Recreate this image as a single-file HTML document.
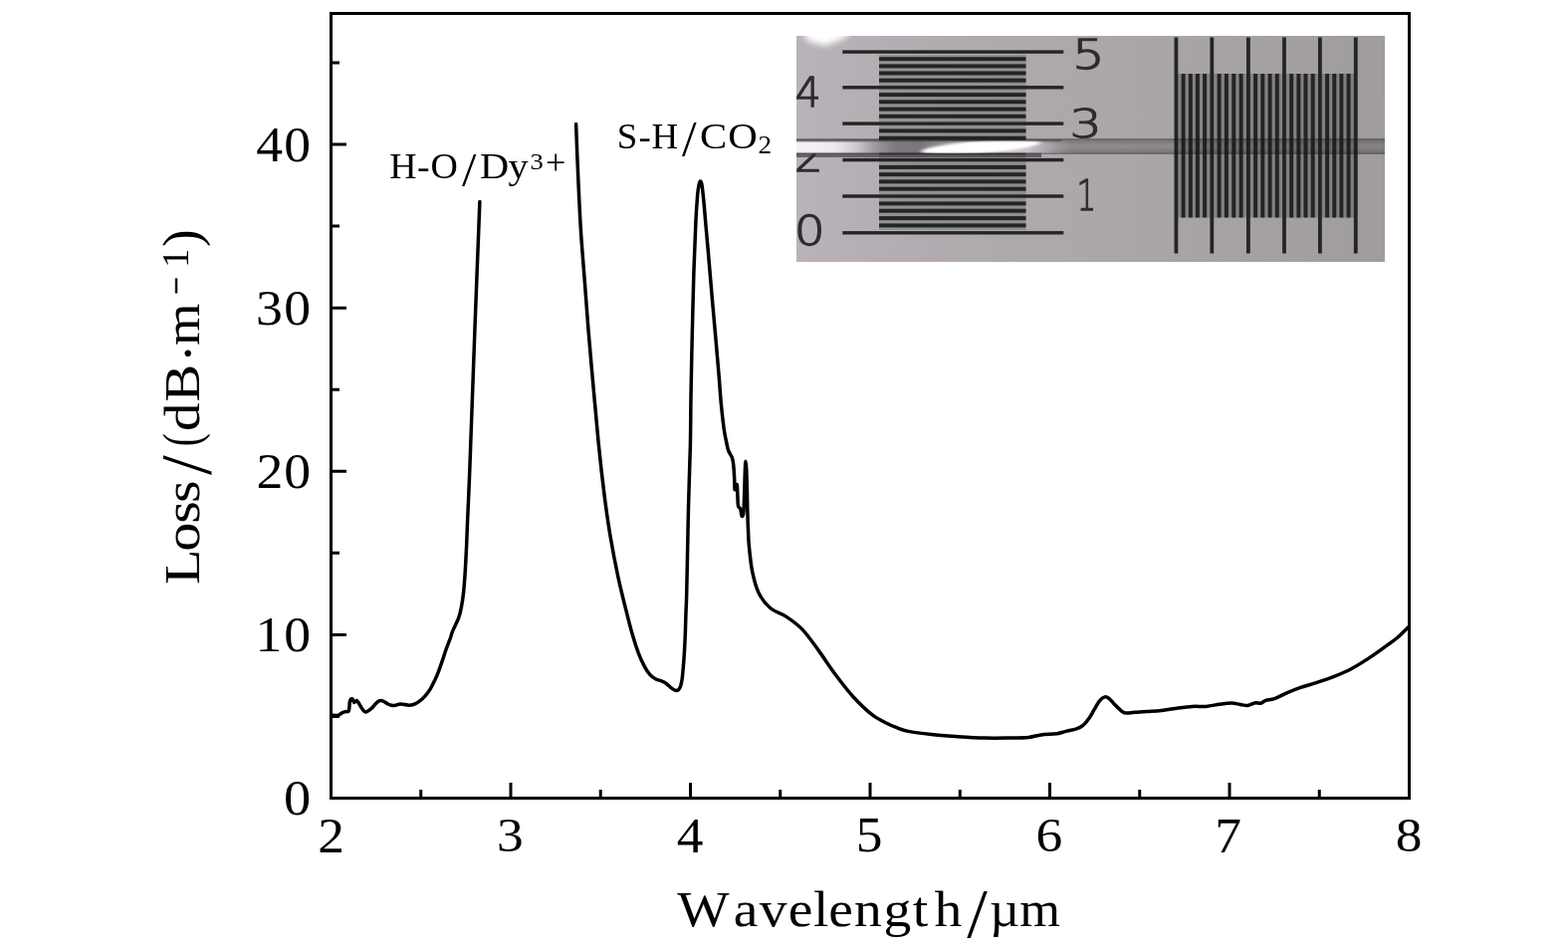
<!DOCTYPE html><html><head><meta charset="utf-8"><title>Loss spectrum</title>
<style>html,body{margin:0;padding:0;background:#fff}svg{display:block}text{font-family:"Liberation Serif",serif;fill:#000}.ins text{font-family:"DejaVu Sans Light","DejaVu Sans","Liberation Sans",sans-serif;font-weight:200;fill:#2e2c2e;stroke:#2e2c2e;stroke-width:1.25px}</style></head><body>
<svg width="1575" height="955" viewBox="0 0 1575 955">
<rect width="1575" height="955" fill="#fff"/>
<defs>
<linearGradient id="bg" x1="0" y1="0" x2="1" y2="0"><stop offset="0" stop-color="#b9b2b9"/><stop offset="0.25" stop-color="#b1abb0"/><stop offset="0.55" stop-color="#aaa6a9"/><stop offset="1" stop-color="#9f9b9e"/></linearGradient>
<linearGradient id="fibL" gradientUnits="userSpaceOnUse" x1="800" y1="0" x2="1076" y2="0"><stop offset="0" stop-color="#f8f0f8"/><stop offset="0.14" stop-color="#f1e8f1"/><stop offset="0.22" stop-color="#cfc6cf"/><stop offset="0.29" stop-color="#9c969c"/><stop offset="0.36" stop-color="#7e797e"/><stop offset="0.45" stop-color="#7a757b"/><stop offset="0.52" stop-color="#8f898f"/><stop offset="0.60" stop-color="#b5adb5"/><stop offset="0.77" stop-color="#d5ccd5"/><stop offset="0.84" stop-color="#cdc4cd"/><stop offset="0.90" stop-color="#bdb5bd" stop-opacity="0.8"/><stop offset="1" stop-color="#a9a3a9" stop-opacity="0"/></linearGradient>
<linearGradient id="fibV" x1="0" y1="0" x2="0" y2="1"><stop offset="0" stop-color="#141214" stop-opacity="0.5"/><stop offset="0.16" stop-color="#141214" stop-opacity="0.3"/><stop offset="0.5" stop-color="#141214" stop-opacity="0.17"/><stop offset="0.84" stop-color="#141214" stop-opacity="0.3"/><stop offset="1" stop-color="#141214" stop-opacity="0.5"/></linearGradient>
<filter id="b1" x="-5%" y="-5%" width="110%" height="110%"><feGaussianBlur stdDeviation="0.7"/></filter>
<filter id="b2" x="-20%" y="-50%" width="140%" height="200%"><feGaussianBlur stdDeviation="2.2"/></filter>
<filter id="b3" x="-20%" y="-20%" width="140%" height="140%"><feGaussianBlur stdDeviation="4"/></filter>
<filter id="b4" x="-10%" y="-30%" width="120%" height="160%"><feGaussianBlur stdDeviation="1"/></filter>
<filter id="b5" x="-20%" y="-80%" width="140%" height="260%"><feGaussianBlur stdDeviation="2.5 1.2"/></filter>
<filter id="b6" x="-30%" y="-30%" width="160%" height="160%"><feGaussianBlur stdDeviation="3"/></filter>
<clipPath id="fc"><rect x="800" y="141.2" width="300" height="13"/></clipPath>
<clipPath id="c2"><rect x="790" y="154" width="50" height="30"/></clipPath>
<clipPath id="ic"><rect x="800" y="36" width="591" height="227"/></clipPath>
</defs>
<g class="ins" clip-path="url(#ic)">
<rect x="800" y="36" width="591" height="227" fill="url(#bg)"/>
<path d="M805,26 L858,26 L849,38 L829,46 L811,41 Z" fill="#fff" filter="url(#b6)"/>
<rect x="883" y="55" width="147.5" height="176" fill="#3a383a" opacity="0.25"/>
<rect x="1183" y="74" width="177" height="144.5" fill="#3a383a" opacity="0.3"/>
<g filter="url(#b1)">
<rect x="846.3" y="50.4" width="222" height="3.4" fill="#242522"/>
<rect x="846.3" y="86.1" width="222" height="3.4" fill="#242522"/>
<rect x="846.3" y="122.4" width="222" height="3.4" fill="#242522"/>
<rect x="846.3" y="158.9" width="222" height="3.4" fill="#242522"/>
<rect x="846.3" y="195.3" width="222" height="3.4" fill="#242522"/>
<rect x="846.3" y="232.1" width="222" height="3.4" fill="#242522"/>
<rect x="883" y="57.2" width="147.5" height="4" fill="#242522"/>
<rect x="883" y="64.4" width="147.5" height="4" fill="#242522"/>
<rect x="883" y="71.5" width="147.5" height="4" fill="#242522"/>
<rect x="883" y="78.7" width="147.5" height="4" fill="#242522"/>
<rect x="883" y="93.1" width="147.5" height="4" fill="#242522"/>
<rect x="883" y="100.3" width="147.5" height="4" fill="#242522"/>
<rect x="883" y="107.6" width="147.5" height="4" fill="#242522"/>
<rect x="883" y="114.8" width="147.5" height="4" fill="#242522"/>
<rect x="883" y="129.4" width="147.5" height="4" fill="#242522"/>
<rect x="883" y="136.7" width="147.5" height="4" fill="#242522"/>
<rect x="883" y="144.0" width="147.5" height="4" fill="#242522"/>
<rect x="883" y="151.3" width="147.5" height="4" fill="#242522"/>
<rect x="883" y="165.9" width="147.5" height="4" fill="#242522"/>
<rect x="883" y="173.2" width="147.5" height="4" fill="#242522"/>
<rect x="883" y="180.4" width="147.5" height="4" fill="#242522"/>
<rect x="883" y="187.7" width="147.5" height="4" fill="#242522"/>
<rect x="883" y="202.4" width="147.5" height="4" fill="#242522"/>
<rect x="883" y="209.7" width="147.5" height="4" fill="#242522"/>
<rect x="883" y="217.1" width="147.5" height="4" fill="#242522"/>
<rect x="883" y="224.4" width="147.5" height="4" fill="#242522"/>
<rect x="1179.5" y="37.5" width="3.8" height="217" fill="#242522"/>
<rect x="1215.4" y="37.5" width="3.8" height="217" fill="#242522"/>
<rect x="1252.0" y="37.5" width="3.8" height="217" fill="#242522"/>
<rect x="1288.1" y="37.5" width="3.8" height="217" fill="#242522"/>
<rect x="1324.0" y="37.5" width="3.8" height="217" fill="#242522"/>
<rect x="1359.9" y="37.5" width="3.8" height="217" fill="#242522"/>
<rect x="1186.6" y="74" width="4" height="144.5" fill="#242522"/>
<rect x="1193.8" y="74" width="4" height="144.5" fill="#242522"/>
<rect x="1200.9" y="74" width="4" height="144.5" fill="#242522"/>
<rect x="1208.1" y="74" width="4" height="144.5" fill="#242522"/>
<rect x="1222.6" y="74" width="4" height="144.5" fill="#242522"/>
<rect x="1229.9" y="74" width="4" height="144.5" fill="#242522"/>
<rect x="1237.3" y="74" width="4" height="144.5" fill="#242522"/>
<rect x="1244.6" y="74" width="4" height="144.5" fill="#242522"/>
<rect x="1259.1" y="74" width="4" height="144.5" fill="#242522"/>
<rect x="1266.3" y="74" width="4" height="144.5" fill="#242522"/>
<rect x="1273.6" y="74" width="4" height="144.5" fill="#242522"/>
<rect x="1280.8" y="74" width="4" height="144.5" fill="#242522"/>
<rect x="1295.2" y="74" width="4" height="144.5" fill="#242522"/>
<rect x="1302.4" y="74" width="4" height="144.5" fill="#242522"/>
<rect x="1309.5" y="74" width="4" height="144.5" fill="#242522"/>
<rect x="1316.7" y="74" width="4" height="144.5" fill="#242522"/>
<rect x="1331.1" y="74" width="4" height="144.5" fill="#242522"/>
<rect x="1338.3" y="74" width="4" height="144.5" fill="#242522"/>
<rect x="1345.4" y="74" width="4" height="144.5" fill="#242522"/>
<rect x="1352.6" y="74" width="4" height="144.5" fill="#242522"/>
<text transform="translate(1077.02,68.99) scale(1.2849,1.0201)" font-size="40">5</text>
<text transform="translate(798.77,106.60) scale(1.0194,1.0205)" font-size="40">4</text>
<text transform="translate(1074.60,138.41) scale(1.2663,0.9768)" font-size="40">3</text>
<g clip-path="url(#c2)">
<text transform="translate(797.64,172.20) scale(1.1368,1.0068)" font-size="40">2</text>
</g>
<text transform="translate(1081.49,210.70) scale(0.7744,1.0445)" font-size="40">1</text>
<text transform="translate(797.76,246.08) scale(1.2174,1.0265)" font-size="40">0</text>
</g>
<rect x="800" y="139.2" width="591" height="15.6" fill="url(#fibV)"/>
<g clip-path="url(#fc)">
<g filter="url(#b4)"><rect x="780" y="141.8" width="300" height="12.2" fill="url(#fibL)"/></g>
<ellipse cx="985" cy="147.6" rx="60" ry="5.8" transform="rotate(-4.2 985 147.6)" fill="#fff" filter="url(#b5)"/>
<ellipse cx="992" cy="147.2" rx="42" ry="4.8" transform="rotate(-4.2 992 147.2)" fill="#fff" filter="url(#b4)"/>
</g>
<rect x="796" y="153.6" width="250" height="4.4" fill="#343234" opacity="0.62" filter="url(#b1)"/>
<rect x="796" y="139.9" width="270" height="2.4" fill="#343234" opacity="0.4" filter="url(#b1)"/>
</g>
<rect x="332.5" y="13.5" width="1083.0" height="788.0" fill="none" stroke="#000" stroke-width="3"/>
<path d="M332.50,801.5 v-15.5 M513.00,801.5 v-15.5 M693.50,801.5 v-15.5 M874.00,801.5 v-15.5 M1054.50,801.5 v-15.5 M1235.00,801.5 v-15.5 M1415.50,801.5 v-15.5 M422.75,801.5 v-8.5 M603.25,801.5 v-8.5 M783.75,801.5 v-8.5 M964.25,801.5 v-8.5 M1144.75,801.5 v-8.5 M1325.25,801.5 v-8.5 M332.5,801.50 h15.5 M332.5,637.38 h15.5 M332.5,473.26 h15.5 M332.5,309.14 h15.5 M332.5,145.02 h15.5 M332.5,719.44 h8.5 M332.5,555.32 h8.5 M332.5,391.20 h8.5 M332.5,227.08 h8.5 M332.5,62.96 h8.5" stroke="#000" stroke-width="3" fill="none"/>
<path d="M333.5,718.0 C334.5,718.1 337.7,718.9 339.4,718.5 C341.1,718.1 342.3,716.5 343.6,715.9 C344.9,715.2 345.9,715.0 347.0,714.6 C348.1,714.2 349.6,715.6 350.4,713.8 C351.1,712.0 350.9,705.9 351.5,703.9 C352.1,701.9 353.2,701.5 353.9,701.8 C354.6,702.0 355.0,705.1 355.7,705.4 C356.4,705.7 357.4,703.1 358.3,703.4 C359.2,703.7 359.8,705.4 360.9,707.0 C361.9,708.6 363.5,711.5 364.6,712.8 C365.7,714.1 366.3,715.1 367.7,714.9 C369.1,714.7 371.3,713.0 372.9,711.7 C374.5,710.4 375.8,708.3 377.1,707.0 C378.4,705.7 379.6,704.4 380.8,703.9 C382.0,703.4 383.0,703.4 384.5,703.9 C386.0,704.4 388.0,706.2 389.7,707.0 C391.4,707.8 392.8,708.6 394.9,708.6 C397.0,708.6 399.9,707.1 402.3,707.0 C404.8,706.9 407.4,708.0 409.6,708.1 C411.8,708.2 413.4,708.1 415.3,707.5 C417.2,706.9 419.3,705.7 421.1,704.4 C422.9,703.1 424.6,701.6 426.3,699.7 C428.1,697.8 429.9,695.7 431.6,692.9 C433.4,690.1 435.4,685.8 436.8,682.9 C438.2,680.0 438.8,678.7 440.0,675.6 C441.2,672.5 442.7,668.1 444.1,664.1 C445.5,660.1 446.9,655.4 448.3,651.5 C449.7,647.6 451.4,643.5 452.5,640.5 C453.6,637.5 453.2,637.2 454.6,633.8 C456.0,630.4 459.3,624.4 460.8,620.2 C462.3,616.0 462.8,613.1 463.6,608.7 C464.4,604.3 465.1,599.9 465.7,594.0 C466.3,588.1 466.8,580.8 467.3,573.1 C467.8,565.4 468.2,556.4 468.6,548.0 C469.0,539.6 469.2,531.9 469.6,522.8 C470.0,513.7 470.5,503.3 470.9,493.5 C471.3,483.7 471.1,491.1 472.1,464.2 C473.1,437.3 475.3,375.6 476.9,332.0 C478.5,288.4 481.1,224.1 481.9,202.5" fill="none" stroke="#000" stroke-width="3.5" stroke-linejoin="round" stroke-linecap="round"/>
<path d="M578.6,124.5 C578.9,132.6 579.7,155.4 580.5,172.9 C581.3,190.4 582.2,211.7 583.3,229.5 C584.4,247.3 585.8,263.0 587.1,279.8 C588.4,296.6 589.6,314.4 590.9,330.1 C592.2,345.8 593.6,361.7 594.7,374.2 C595.8,386.7 596.4,392.9 597.5,405.0 C598.6,417.1 599.9,432.2 601.4,447.1 C602.9,462.0 604.8,479.1 606.7,494.3 C608.6,509.5 610.6,524.1 613.0,538.2 C615.4,552.3 618.0,565.9 620.8,579.1 C623.6,592.3 627.5,607.3 630.0,617.3 C632.5,627.3 633.9,632.6 635.8,639.1 C637.7,645.6 639.6,651.4 641.5,656.4 C643.4,661.4 645.4,665.5 647.3,669.1 C649.2,672.7 651.1,675.6 653.0,677.7 C654.9,679.9 656.9,681.0 658.8,682.0 C660.7,683.0 662.8,683.1 664.5,683.8 C666.2,684.5 667.6,685.2 669.1,686.3 C670.6,687.4 672.4,689.3 673.7,690.4 C675.1,691.5 676.2,692.3 677.2,692.8 C678.2,693.3 678.9,693.6 679.7,693.5 C680.5,693.4 681.3,693.0 682.0,692.1 C682.7,691.2 683.4,690.0 683.9,688.1 C684.4,686.2 684.9,683.8 685.3,680.6 C685.7,677.4 686.0,673.9 686.4,669.1 C686.8,664.3 687.3,657.6 687.6,651.8 C687.9,646.0 688.2,640.2 688.4,634.5 C688.6,628.8 688.7,623.0 688.9,617.3 C689.1,611.5 689.4,607.4 689.6,600.0 C689.8,592.6 689.9,587.8 690.2,572.8 C690.5,557.8 691.0,531.0 691.5,510.0 C692.0,489.1 693.0,465.7 693.4,447.1 C693.8,428.6 693.7,417.2 694.0,398.7 C694.3,380.2 694.8,356.8 695.3,335.9 C695.8,315.0 696.3,292.0 696.9,273.1 C697.5,254.3 698.3,235.8 698.9,222.8 C699.5,209.8 700.2,201.5 700.7,195.2 C701.2,188.9 701.8,187.3 702.2,185.1 C702.7,182.9 703.0,182.1 703.4,182.1 C703.8,182.1 704.3,182.1 704.9,185.1 C705.5,188.1 706.0,193.5 706.7,200.2 C707.4,206.9 708.0,215.2 708.9,225.3 C709.8,235.4 711.0,248.3 712.0,260.5 C713.0,272.6 714.0,284.8 715.2,298.2 C716.4,311.6 717.8,327.6 719.0,340.9 C720.2,354.2 721.3,367.3 722.2,378.0 C723.1,388.7 723.5,396.5 724.3,405.1 C725.1,413.7 726.2,423.3 727.0,429.5 C727.8,435.7 728.5,438.4 729.3,442.2 C730.1,446.0 730.6,449.5 731.6,452.4 C732.6,455.3 734.5,457.1 735.4,459.6 C736.3,462.1 736.4,463.9 736.8,467.5 C737.2,471.1 737.5,477.0 737.7,481.0 C737.9,485.0 737.7,490.8 738.1,491.7 C738.5,492.6 739.7,485.4 740.2,486.5 C740.7,487.6 740.7,494.4 740.9,498.0 C741.1,501.6 741.0,506.0 741.5,508.2 C742.0,510.4 743.1,509.3 743.7,511.0 C744.3,512.7 744.7,517.5 745.2,518.3 C745.7,519.1 746.4,517.9 746.7,516.0 C747.1,514.1 747.1,511.1 747.3,507.0 C747.5,502.9 747.6,497.1 747.8,491.2 C748.0,485.3 748.2,476.1 748.4,471.5 C748.6,466.9 748.8,463.3 749.0,463.3 C749.3,463.3 749.6,466.9 749.8,471.5 C750.0,476.1 750.2,484.5 750.4,491.2 C750.6,497.9 750.6,504.8 750.8,511.6 C751.0,518.4 751.2,525.9 751.5,532.0 C751.8,538.1 751.7,541.4 752.4,548.4 C753.1,555.4 754.1,566.4 755.7,574.2 C757.3,582.0 759.1,589.3 762.1,595.4 C765.1,601.5 769.4,606.8 773.9,610.7 C778.4,614.6 783.9,615.4 789.2,618.9 C794.5,622.4 800.2,626.2 805.7,631.9 C811.2,637.6 816.7,645.6 822.2,653.1 C827.7,660.6 832.8,668.9 838.7,676.7 C844.6,684.6 851.2,693.3 857.5,700.2 C863.8,707.1 870.6,713.5 876.3,717.9 C882.0,722.3 887.8,724.7 891.7,726.8 C895.7,728.9 896.5,729.1 900.0,730.4 C903.5,731.7 906.5,733.2 912.4,734.4 C918.3,735.6 927.3,736.7 935.6,737.6 C943.9,738.5 953.3,739.1 962.2,739.7 C971.1,740.3 980.6,740.9 988.9,741.1 C997.2,741.3 1004.6,741.2 1012.0,741.1 C1019.4,741.0 1027.7,740.9 1033.3,740.4 C1038.9,739.9 1041.0,738.5 1045.8,737.9 C1050.5,737.3 1057.6,737.3 1061.8,736.7 C1066.0,736.1 1067.5,735.2 1070.7,734.4 C1074.0,733.6 1078.5,732.8 1081.3,731.9 C1084.1,731.0 1085.5,730.4 1087.6,728.7 C1089.7,727.0 1091.9,724.3 1093.8,721.6 C1095.7,718.9 1097.3,715.7 1099.1,712.7 C1100.9,709.7 1102.6,705.9 1104.4,703.8 C1106.2,701.7 1108.2,700.3 1109.8,699.9 C1111.4,699.5 1112.7,700.5 1114.2,701.6 C1115.7,702.7 1117.2,704.9 1118.7,706.4 C1120.2,707.9 1121.3,709.3 1123.1,710.9 C1124.9,712.5 1126.5,715.0 1129.3,715.7 C1132.1,716.4 1135.8,715.5 1140.0,715.3 C1144.2,715.1 1149.8,714.7 1154.2,714.4 C1158.7,714.1 1162.3,713.9 1166.7,713.4 C1171.1,712.9 1175.4,712.2 1180.6,711.5 C1185.8,710.8 1192.6,709.8 1197.7,709.4 C1202.8,709.0 1206.8,709.8 1211.4,709.4 C1216.0,709.0 1220.8,707.8 1225.1,707.2 C1229.4,706.6 1233.7,706.0 1237.1,706.0 C1240.5,706.0 1243.0,707.0 1245.7,707.4 C1248.4,707.8 1250.8,708.7 1253.4,708.4 C1256.0,708.1 1258.9,706.1 1261.1,705.7 C1263.2,705.4 1264.6,706.7 1266.3,706.3 C1268.0,705.9 1269.1,704.2 1271.4,703.4 C1273.7,702.6 1276.6,702.9 1280.0,701.7 C1283.4,700.5 1287.7,698.0 1292.0,696.1 C1296.3,694.2 1300.5,692.4 1305.7,690.6 C1310.9,688.8 1317.2,687.3 1322.9,685.4 C1328.6,683.5 1334.3,681.7 1340.0,679.4 C1345.7,677.1 1351.5,674.7 1357.2,671.7 C1362.9,668.7 1368.6,665.1 1374.3,661.4 C1380.0,657.7 1386.6,652.9 1391.4,649.4 C1396.2,645.9 1399.5,643.8 1403.4,640.5 C1407.3,637.2 1412.7,631.5 1414.6,629.7" fill="none" stroke="#000" stroke-width="3.5" stroke-linejoin="round" stroke-linecap="round"/>
<text transform="translate(319.14,855.70) scale(1.0600,0.9921)" font-size="50.4">2</text>
<text transform="translate(498.98,855.21) scale(1.0600,0.9773)" font-size="50.4">3</text>
<text transform="translate(679.74,855.70) scale(1.0600,0.9921)" font-size="50.4">4</text>
<text transform="translate(859.71,855.20) scale(1.0600,0.9846)" font-size="50.4">5</text>
<text transform="translate(1040.48,855.21) scale(1.0600,0.9773)" font-size="50.4">6</text>
<text transform="translate(1220.18,855.70) scale(1.0600,0.9996)" font-size="50.4">7</text>
<text transform="translate(1401.74,855.21) scale(1.0600,0.9700)" font-size="50.4">8</text>
<text transform="translate(0,818.20) scale(1.0797,1)" x="264.04" y="0" font-size="50.4">0</text>
<text transform="translate(0,654.08) scale(1.0663,1)" x="240.55 267.53" y="0" font-size="50.4">10</text>
<text transform="translate(0,489.96) scale(1.0653,1)" x="241.79 267.79" y="0" font-size="50.4">20</text>
<text transform="translate(0,325.84) scale(1.0650,1)" x="241.22 267.86" y="0" font-size="50.4">30</text>
<text transform="translate(0,161.72) scale(1.0642,1)" x="241.67 268.08" y="0" font-size="50.4">40</text>
<text transform="translate(0,930.30) scale(1.0968,1)" x="620.12 671.75 695.48 721.81 744.81 758.87 782.29 809.14 835.91 855.63" y="0" font-size="50.6">Wavelength</text>
<text transform="translate(971.30,940.59) scale(1.4610,1.3952)" font-size="50.6">/</text>
<text transform="translate(0,930.30) scale(1.0352,1)" x="960.15 989.32" y="0" font-size="50.6">µm</text>
<g transform="translate(200.4,584.5) rotate(-90)">
<text transform="translate(0,0.00) scale(1.1554,1)" x="-2.24 26.56 50.93 68.80" y="0" font-size="50.4">Loss</text>
<text transform="translate(107.50,10.48) scale(1.4031,1.4244)" font-size="50.4">/</text>
<text transform="translate(136.13,-0.02) scale(0.7787,1.0604)" font-size="50.4">(</text>
<text transform="translate(0,0.00) scale(1.1338,1)" x="133.53 159.53" y="0" font-size="50.4">dB</text>
<text transform="translate(220.62,6.75) scale(1.0913,1.0913)" font-size="50.4">·</text>
<text transform="translate(237.51,0.00) scale(1.0839,1.0000)" font-size="50.4">m</text>
<text transform="translate(288.65,-11.30) scale(0.8602,1.0000)" font-size="36" stroke="#000" stroke-width="0.7">−</text>
<text transform="translate(315.52,-11.80) scale(1.0720,1.0269)" font-size="36">1</text>
<text transform="translate(336.42,-0.02) scale(1.0455,1.0604)" font-size="50.4">)</text>
</g>
<text transform="translate(0,179.20) scale(1.0770,1)" x="363.18 389.08 401.57" y="0" font-size="35.2">H-O</text>
<text transform="translate(464.00,186.51) scale(1.4712,1.4035)" font-size="35.2">/</text>
<text transform="translate(0,179.20) scale(1.1462,1)" x="420.44 445.33" y="0" font-size="35.2">Dy</text>
<text transform="translate(532.40,169.66) scale(1.1396,1.0205)" font-size="23.4">3</text>
<text transform="translate(547.89,175.06) scale(1.1290,1.1370)" font-size="32">+</text>
<text transform="translate(0,149.00) scale(1.0549,1)" x="587.53 608.01 620.47" y="0" font-size="35">S-H</text>
<text transform="translate(684.90,156.30) scale(1.5000,1.4286)" font-size="35">/</text>
<text transform="translate(0,149.00) scale(1.1663,1)" x="602.71 627.04" y="0" font-size="35">CO</text>
<text transform="translate(761.51,153.90) scale(1.1509,1.0272)" font-size="23.6">2</text>
</svg></body></html>
